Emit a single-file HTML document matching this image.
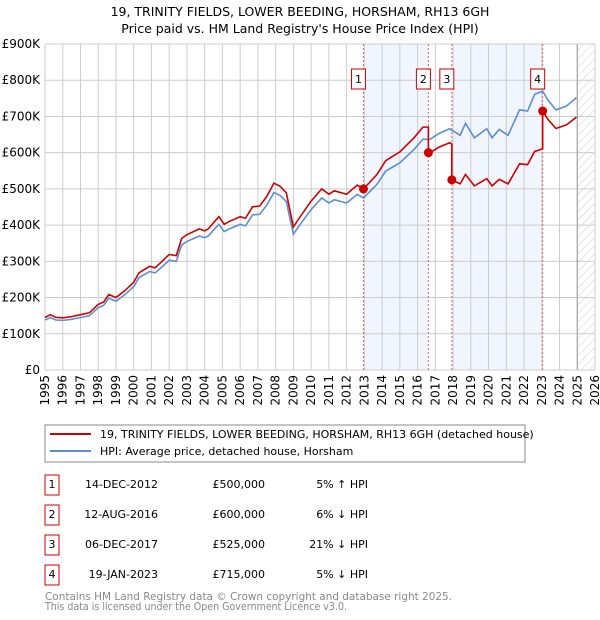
<!DOCTYPE html>
<html><head><meta charset="utf-8"><style>
html,body{margin:0;padding:0;background:#fff;}
svg{display:block;font-family:"DejaVu Sans","Liberation Sans",sans-serif;}
</style></head><body>
<svg id="chart" width="600" height="620" viewBox="0 0 600 620">
<defs>
<pattern id="hatch" width="6" height="6" patternUnits="userSpaceOnUse" patternTransform="rotate(45)">
<line x1="0" y1="0" x2="0" y2="6" stroke="#ccc" stroke-width="1"/>
</pattern>
</defs>
<text x="300" y="16" text-anchor="middle" font-size="12.5">19, TRINITY FIELDS, LOWER BEEDING, HORSHAM, RH13 6GH</text>
<text x="300" y="33" text-anchor="middle" font-size="12.5">Price paid vs. HM Land Registry's House Price Index (HPI)</text>
<g id="plot"></g>
<rect x="45" y="425" width="480" height="37" fill="none" stroke="#888"/>
<line x1="50" y1="434" x2="91" y2="434" stroke="#cc0000" stroke-width="2"/>
<text x="100" y="438" font-size="11">19, TRINITY FIELDS, LOWER BEEDING, HORSHAM, RH13 6GH (detached house)</text>
<line x1="50" y1="451" x2="91" y2="451" stroke="#5b8fd4" stroke-width="2"/>
<text x="100" y="455" font-size="11">HPI: Average price, detached house, Horsham</text>
<g id="table" font-size="11"></g>
<text x="45" y="600" font-size="11" fill="#888" textLength="407" lengthAdjust="spacingAndGlyphs">Contains HM Land Registry data © Crown copyright and database right 2025.</text>
<text x="45" y="610" font-size="11" fill="#888" textLength="302" lengthAdjust="spacingAndGlyphs">This data is licensed under the Open Government Licence v3.0.</text>
</svg>
<script>
const hpiYears=[1995.0,1995.3,1995.6,1996.0,1996.5,1997.0,1997.5,1998.0,1998.3,1998.6,1999.0,1999.5,2000.0,2000.3,2000.9,2001.2,2001.6,2002.0,2002.4,2002.7,2003.0,2003.7,2004.0,2004.2,2004.8,2005.1,2005.4,2006.0,2006.3,2006.7,2007.1,2007.5,2007.9,2008.25,2008.6,2009.0,2009.37,2010.0,2010.6,2011.0,2011.3,2012.0,2012.6,2012.95,2013.7,2014.2,2015.0,2015.8,2016.3,2016.7,2017.2,2017.8,2018.4,2018.7,2019.2,2019.9,2020.2,2020.6,2021.1,2021.75,2022.2,2022.6,2023.05,2023.35,2023.8,2024.4,2024.95];
const hpiValues=[138,145,138,137,140,145,150,172,178,198,190,208,230,255,272,268,285,303,300,345,355,370,365,370,402,382,390,402,398,428,430,455,490,482,465,375,401,443,475,461,470,461,485,475,512,549,572,609,637,637,653,666,648,681,641,666,641,664,648,718,715,761,770,745,718,729,752];
const saleLabels=["1","2","3","4"];
const saleYears=[2012.95,2016.61,2017.93,2023.05];
const salePrices=[500,600,525,715];
const saleDates=["14-DEC-2012","12-AUG-2016","06-DEC-2017","19-JAN-2023"];
const salePriceText=["£500,000","£600,000","£525,000","£715,000"];
const saleHpiText=["5% ↑ HPI","6% ↓ HPI","21% ↓ HPI","5% ↓ HPI"];
const yTicks=[0,100,200,300,400,500,600,700,800,900];
const yTickLabels=["£0","£100K","£200K","£300K","£400K","£500K","£600K","£700K","£800K","£900K"];
const xTicks=[1995,1996,1997,1998,1999,2000,2001,2002,2003,2004,2005,2006,2007,2008,2009,2010,2011,2012,2013,2014,2015,2016,2017,2018,2019,2020,2021,2022,2023,2024,2025,2026];

const NS="http://www.w3.org/2000/svg";
const X0=45,X1=595,Y0=370,Y1=44;
const xs=y=>X0+(y-1995)/(2026-1995)*(X1-X0);
const ys=v=>Y0-v/900*(Y0-Y1);
function mk(tag,attrs,parent,text){const e=document.createElementNS(NS,tag);for(const k in attrs)e.setAttribute(k,attrs[k]);if(text!==undefined)e.textContent=text;parent.appendChild(e);return e;}
const plot=document.getElementById('plot');
function hpiAt(y){for(let i=0;i<hpiYears.length-1;i++){if(y<=hpiYears[i+1]){const t=(y-hpiYears[i])/(hpiYears[i+1]-hpiYears[i]);return hpiValues[i]+t*(hpiValues[i+1]-hpiValues[i]);}}return hpiValues[hpiValues.length-1];}
for(let i=0;i+1<saleYears.length;i+=2){
 const r=mk('rect',{x:xs(saleYears[i]),y:Y1,width:xs(saleYears[i+1])-xs(saleYears[i]),height:Y0-Y1,fill:'#eef3fc',opacity:0.8},plot);
 
 
}
const h=mk('rect',{x:xs(2025),y:Y1,width:X1-xs(2025),height:Y0-Y1,fill:'url(#hatch)'},plot);


yTicks.forEach((v,i)=>{
 const l=mk('line',{x1:X0,x2:X1,y1:ys(v),y2:ys(v),stroke:'#ccc','stroke-width':1},plot);
 
 
 const t=mk('text',{x:40,y:ys(v)+4,'text-anchor':'end','font-size':12},plot,yTickLabels[i]);
 
 
});
xTicks.forEach(y=>{
 const l=mk('line',{x1:xs(y),x2:xs(y),y1:Y1,y2:Y0,stroke:'#ccc','stroke-width':1},plot);
 
 
 const t=mk('text',{x:0,y:0,'text-anchor':'end','font-size':12,transform:`translate(${xs(y)+4},${Y0+5}) rotate(-90)`},plot,String(y));
 
 
});
const edge=mk('line',{x1:xs(2025),x2:xs(2025),y1:Y1,y2:Y0,stroke:'#999','stroke-width':1},plot);


saleYears.forEach((y,i)=>{
 const l=mk('line',{x1:xs(y),x2:xs(y),y1:Y1,y2:Y0,stroke:'#e06666','stroke-width':1,'stroke-dasharray':'2,2'},plot);
 
 
});
const hp=mk('polyline',{points:hpiYears.map((y,i)=>xs(y)+','+ys(hpiValues[i])).join(' '),fill:'none',stroke:'#5b8fd4','stroke-width':1.6},plot);


const ratios=saleYears.map((y,i)=>salePrices[i]/hpiAt(y));
const pts=[];
hpiYears.forEach((y,i)=>{
 let k=0;for(let j=0;j<saleYears.length;j++){if(y>=saleYears[j])k=j;}
 saleYears.forEach((sy,j)=>{if(j>0&&sy>(hpiYears[i-1]||0)&&sy<=y){pts.push([sy,hpiAt(sy)*ratios[j-1]]);pts.push([sy,salePrices[j]]);}});
 pts.push([y,hpiValues[i]*ratios[k]]);
});
const pp=mk('polyline',{points:pts.map(p=>xs(p[0])+','+ys(p[1])).join(' '),fill:'none',stroke:'#cc0000','stroke-width':1.6},plot);


saleYears.forEach((y,i)=>{
 const c=mk('circle',{cx:xs(y),cy:ys(salePrices[i]),r:4.5,fill:'#cc0000'},plot);
 
 
 const b=mk('rect',{x:xs(y)-12,y:69,width:14,height:20,fill:'#fff',stroke:'#cc0000'},plot);
 
 
 const t=mk('text',{x:xs(y)-5,y:83,'text-anchor':'middle','font-size':11},plot,saleLabels[i]);
 
 
});
const tb=document.getElementById('table');
saleLabels.forEach((s,i)=>{
 const cy=485+i*30;
 const b=mk('rect',{x:45,y:cy-10,width:14,height:20,fill:'#fff',stroke:'#cc0000'},tb);
 
 
 const t0=mk('text',{x:52,y:cy+3,'text-anchor':'middle'},tb,s);
 
 
 const t1=mk('text',{x:158,y:cy+3,'text-anchor':'end'},tb,saleDates[i]);
 
 
 const t2=mk('text',{x:265,y:cy+3,'text-anchor':'end'},tb,salePriceText[i]);
 
 
 const t3=mk('text',{x:368,y:cy+3,'text-anchor':'end'},tb,saleHpiText[i]);
 
 
});
</script>
</body></html>
